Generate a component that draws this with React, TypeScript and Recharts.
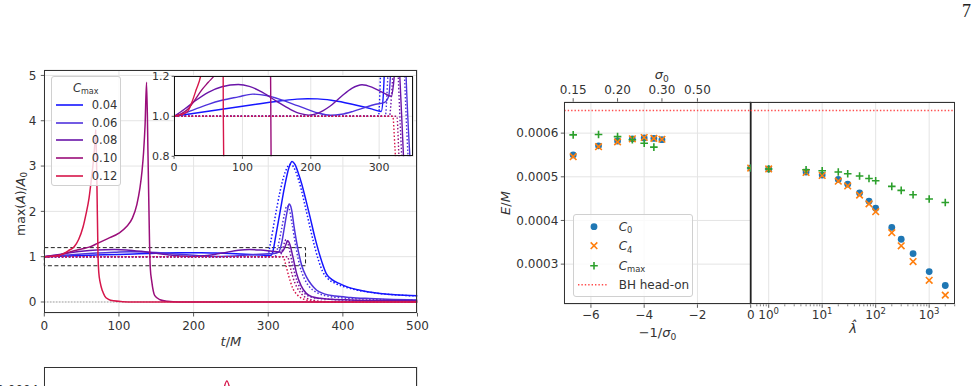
import React from "react";
import {
  CartesianGrid,
  Legend,
  Line,
  LineChart,
  ReferenceArea,
  ReferenceLine,
  Scatter,
  ScatterChart,
  XAxis,
  YAxis,
} from "recharts";

const FONT = "'DejaVu Sans', sans-serif";
const INK = "#333";
const GRID = "#e4e4e4";
const tick12 = { fontSize: 12, fill: INK };
const tick11 = { fontSize: 11, fill: INK };
const tickLine = { stroke: INK, strokeWidth: 0.8 };

// ---------- left panel: max(A)/A0 against t/M ----------
const cmaxValues = ["0.04", "0.06", "0.08", "0.10", "0.12"];
const cmaxColors = ["#1616ff", "#4f33dc", "#6a15a8", "#9a0e7a", "#d6164a"];

type Run = [number, number][];

const solid004: Run = [
  [0, 1.0], [20, 1.01], [40, 1.02], [60, 1.03], [80, 1.04], [100, 1.05], [120, 1.06], [140, 1.07],
  [160, 1.079], [180, 1.086], [195, 1.088], [210, 1.087], [230, 1.08], [250, 1.068], [270, 1.053],
  [290, 1.036], [303, 1.024], [306, 1.1], [310, 1.45], [316, 2.0], [322, 2.55], [328, 2.98], [332, 3.1],
  [336, 3.03], [340, 2.86], [345, 2.6], [350, 2.28], [356, 1.88], [362, 1.46], [367, 1.15], [372, 0.88],
  [378, 0.62], [385, 0.5], [395, 0.41], [405, 0.34], [420, 0.27], [435, 0.22], [450, 0.19], [470, 0.16],
  [500, 0.14],
];
const dotted004: Run = [
  [0, 1.0], [299, 1.0], [303, 1.3], [309, 1.85], [316, 2.45], [323, 2.88], [330, 3.04], [334, 2.98],
  [339, 2.78], [344, 2.5], [349, 2.15], [355, 1.72], [361, 1.3], [367, 0.94], [373, 0.67], [379, 0.53],
  [390, 0.41], [405, 0.32], [420, 0.26], [440, 0.205], [460, 0.17], [480, 0.147], [500, 0.132],
];
const solid006: Run = [
  [0, 1.0], [15, 1.015], [30, 1.035], [50, 1.06], [70, 1.08], [94, 1.097], [115, 1.111], [135, 1.104],
  [155, 1.085], [175, 1.06], [195, 1.035], [212, 1.015], [229, 1.005], [245, 1.01], [262, 1.025],
  [280, 1.045], [295, 1.06], [308, 1.07], [314, 1.1], [318, 1.3], [322, 1.68], [326, 2.05], [328, 2.16],
  [331, 2.06], [335, 1.62], [340, 1.15], [345, 0.8], [351, 0.56], [358, 0.38], [365, 0.26], [375, 0.18],
  [390, 0.13], [410, 0.1], [430, 0.08], [460, 0.06], [500, 0.045],
];
const dotted006: Run = [
  [0, 1.0], [309, 1.0], [313, 1.22], [318, 1.62], [322, 1.96], [325, 2.12], [328, 2.06], [332, 1.72],
  [337, 1.22], [342, 0.82], [348, 0.53], [355, 0.34], [365, 0.21], [380, 0.13], [400, 0.09], [430, 0.065],
  [460, 0.05], [500, 0.04],
];
const solid008: Run = [
  [0, 1.0], [15, 1.035], [30, 1.075], [50, 1.12], [70, 1.148], [94, 1.159], [110, 1.15], [130, 1.118],
  [150, 1.075], [170, 1.035], [185, 1.013], [197, 1.006], [210, 1.015], [228, 1.05], [245, 1.1],
  [260, 1.14], [275, 1.158], [290, 1.145], [305, 1.12], [318, 1.1], [321, 1.16], [324, 1.28], [326, 1.35],
  [329, 1.27], [333, 1.0], [338, 0.63], [344, 0.36], [351, 0.19], [360, 0.11], [370, 0.08], [385, 0.06],
  [410, 0.045], [450, 0.032], [500, 0.025],
];
const dotted008: Run = [
  [0, 1.0], [315, 1.0], [319, 1.15], [322, 1.32], [324, 1.38], [327, 1.26], [331, 0.95], [336, 0.6],
  [342, 0.33], [350, 0.17], [360, 0.1], [380, 0.06], [420, 0.035], [500, 0.02],
];
const solid010: Run = [
  [0, 1.0], [10, 1.012], [20, 1.035], [30, 1.08], [40, 1.13], [50, 1.17], [60, 1.21], [72, 1.3], [85, 1.4],
  [100, 1.52], [110, 1.66], [118, 1.85], [124, 2.15], [128, 2.5], [131, 2.9], [133, 3.3], [135, 3.9],
  [137, 4.85], [139, 3.2], [141, 1.3], [142, 0.75], [144, 0.45], [148, 0.14], [155, 0.05], [165, 0.015],
  [180, 0.0], [500, 0.0],
];
const dotted010: Run = [
  [0, 1.0], [326, 1.0], [329, 0.8], [333, 0.55], [338, 0.34], [344, 0.19], [351, 0.09], [360, 0.04],
  [375, 0.01], [400, 0.0], [500, 0.0],
];
const solid012: Run = [
  [0, 1.0], [10, 1.008], [20, 1.025], [26, 1.07], [32, 1.13], [40, 1.22], [46, 1.38], [52, 1.66], [56, 1.95],
  [60, 2.3], [63, 2.7], [66, 3.15], [68, 3.55], [69, 3.8], [70.5, 2.6], [72, 1.0], [73, 0.65], [75, 0.42],
  [78, 0.24], [81, 0.13], [86, 0.06], [93, 0.025], [105, 0.008], [120, 0.0], [500, 0.0],
];
const dotted012: Run = [
  [0, 1.0], [320, 1.0], [323, 0.85], [327, 0.6], [333, 0.3], [340, 0.14], [348, 0.06], [360, 0.02],
  [380, 0.0], [500, 0.0],
];

const solidRuns = [solid004, solid006, solid008, solid010, solid012];
const dottedRuns = [dotted004, dotted006, dotted008, dotted010, dotted012];

const tTicks = [0, 100, 200, 300, 400, 500];
const ampTicks = [0, 1, 2, 3, 4, 5];
const insetTTicks = [0, 100, 200, 300];
const insetAmpTicks = [0.8, 1.0, 1.2];
const zoomT = [0, 350];
const zoomAmp = [0.8, 1.2];

const asPoints = (run: Run) => run.map(([t, v]) => ({ t, v }));

function runLines(width: number) {
  return cmaxValues.flatMap((c, i) => [
    <Line
      key={`s${c}`}
      data={asPoints(solidRuns[i])}
      dataKey="v"
      name={c}
      type="monotone"
      stroke={cmaxColors[i]}
      strokeWidth={width}
      dot={false}
      isAnimationActive={false}
    />,
    <Line
      key={`d${c}`}
      data={asPoints(dottedRuns[i])}
      dataKey="v"
      name={`${c} dotted`}
      legendType="none"
      type="monotone"
      stroke={cmaxColors[i]}
      strokeWidth={width}
      strokeDasharray="1.5 2"
      dot={false}
      isAnimationActive={false}
    />,
  ]);
}

// ---------- right panel: radiated energy ----------
const sigma0 = [0.15, 0.175, 0.2, 0.225, 0.25, 0.275, 0.3];
const eC0Sigma = [0.00055, 0.000571, 0.000582, 0.000587, 0.000589, 0.000588, 0.000585];
const eC4Sigma = [0.000546, 0.000569, 0.00058, 0.000587, 0.00059, 0.000588, 0.000586];
const eCmaxSigma = [0.000596, 0.000597, 0.000592, 0.000585, 0.000577, 0.000568, null];

const lambdaHat = [0, 1, 5, 10, 20, 30, 50, 75, 100, 200, 300, 500, 1000, 2000];
const eC0Lambda = [0.00052, 0.000518, 0.000511, 0.000504, 0.000494, 0.000483, 0.000463, 0.000444, 0.000428, 0.000384, 0.000357, 0.000324, 0.000283, 0.000251];
const eC4Lambda = [0.00052, 0.000518, 0.00051, 0.000503, 0.00049, 0.000479, 0.000458, 0.000438, 0.00042, 0.000372, 0.000342, 0.000306, 0.000263, 0.000229];
const eCmaxLambda = [0.00052, 0.000518, 0.000516, 0.000514, 0.000511, 0.000507, 0.000502, 0.000496, 0.000491, 0.000478, 0.000469, 0.000459, 0.000449, 0.000441];

const bhHeadOn = 0.000652;
const energyDomain = [0.000208, 0.000672];
const energyTicks = [0.0003, 0.0004, 0.0005, 0.0006];
const invSigmaTicks = [-6, -4, -2, 0];
const sigmaTicks = [0.15, 0.2, 0.3, 0.5];
const lamMajors = [1, 10, 100, 1000];
const lamMinors = [0.6, 0.7, 0.8, 0.9, 2, 3, 4, 5, 6, 7, 8, 9, 20, 30, 40, 50, 60, 70, 80, 90, 200, 300, 400, 500, 600, 700, 800, 900, 2000, 3000];
const lamDomain = [0.461, 3000];

const C0_COLOR = "#1f77b4";
const C4_COLOR = "#ff7f0e";
const CMAX_COLOR = "#2ca02c";

// left half: x = -1/sigma0; lambda-hat = 0 shares the x = 0 line
function leftSet(sig: (number | null)[], lam: number[]) {
  const pts = sigma0
    .map((s, i) => ({ x: -1 / s, y: sig[i] }))
    .filter((p) => p.y !== null);
  lambdaHat.forEach((l, i) => {
    if (l === 0) pts.push({ x: 0, y: lam[i] });
  });
  return pts;
}
function rightSet(lam: number[]) {
  return lambdaHat.map((l, i) => ({ x: l, y: lam[i] })).filter((p) => p.x > 0);
}

const DotMark = ({ cx, cy }: any) => <circle cx={cx} cy={cy} r={3.4} fill={C0_COLOR} />;
const XMark = ({ cx, cy }: any) => (
  <path
    d={`M${cx - 3.3},${cy - 3.3}L${cx + 3.3},${cy + 3.3}M${cx - 3.3},${cy + 3.3}L${cx + 3.3},${cy - 3.3}`}
    stroke={C4_COLOR}
    strokeWidth={1.6}
  />
);
const PlusMark = ({ cx, cy }: any) => (
  <path
    d={`M${cx - 3.8},${cy}L${cx + 3.8},${cy}M${cx},${cy - 3.8}L${cx},${cy + 3.8}`}
    stroke={CMAX_COLOR}
    strokeWidth={1.6}
  />
);
const markers: Record<string, any> = { C0: DotMark, C4: XMark, Cmax: PlusMark };

const minus = (v: number) => (v < 0 ? `\u2212${Math.abs(v)}` : `${v}`);

const LogTick = (props: any) => {
  const { x, y, payload } = props;
  const major = lamMajors.includes(payload.value);
  const axisY = y - 6.5; // tickSize + tickMargin above the label anchor
  return (
    <g>
      <line x1={x} x2={x} y1={axisY} y2={axisY + (major ? 3.5 : 2)} stroke={INK} strokeWidth={major ? 0.8 : 0.6} />
      {major && (
        <text x={x} y={axisY + 15} textAnchor="middle" fontSize={12} fill={INK}>
          10
          <tspan fontSize={8.5} dy={-5}>
            {Math.round(Math.log10(payload.value))}
          </tspan>
        </text>
      )}
    </g>
  );
};

const Sub = ({ children }: { children: React.ReactNode }) => (
  <span style={{ fontSize: "0.7em", position: "relative", top: "0.28em" }}>{children}</span>
);

const CmaxLegend = ({ payload }: any) => {
  const items = (payload || []).filter((p: any) => cmaxValues.includes(p.value));
  return (
    <div
      style={{
        position: "relative",
        width: 70,
        height: 110,
        boxSizing: "border-box",
        background: "rgba(255,255,255,0.8)",
        border: "1px solid #d0d0d0",
        borderRadius: 3,
        fontSize: 11.5,
        color: INK,
        fontFamily: FONT,
      }}
    >
      <div style={{ position: "absolute", left: 0, right: 0, top: 3, textAlign: "center", lineHeight: "16px" }}>
        <i>C</i>
        <Sub>max</Sub>
      </div>
      {items.map((p: any, i: number) => (
        <div key={p.value} style={{ position: "absolute", left: 0, top: 19 + i * 17.7, width: "100%", height: 18 }}>
          <svg width={30} height={18} style={{ position: "absolute", left: 3, top: 0 }}>
            <line x1={1} x2={28} y1={9} y2={9} stroke={cmaxColors[cmaxValues.indexOf(p.value)]} strokeWidth={1.6} />
          </svg>
          <span style={{ position: "absolute", left: 40, top: 1, lineHeight: "16px" }}>{p.value}</span>
        </div>
      ))}
    </div>
  );
};

const EnergyLegend = ({ payload }: any) => {
  const items = (payload || []).filter((p: any) => markers[p.value]);
  return (
    <div
      style={{
        position: "relative",
        width: 120.6,
        height: 83.3,
        boxSizing: "border-box",
        background: "rgba(255,255,255,0.8)",
        border: "1px solid #d0d0d0",
        borderRadius: 3,
        fontSize: 12,
        color: INK,
        fontFamily: FONT,
      }}
    >
      {items.map((p: any, i: number) => {
        const M = markers[p.value];
        return (
          <div key={p.value} style={{ position: "absolute", left: 0, top: 2 + i * 19.4, width: "100%", height: 19.4 }}>
            <svg width={30} height={19} style={{ position: "absolute", left: 5, top: 0 }}>
              <M cx={15} cy={9.7} />
            </svg>
            <span style={{ position: "absolute", left: 45, top: 2, lineHeight: "16px" }}>
              <i>C</i>
              <Sub>{p.value.slice(1)}</Sub>
            </span>
          </div>
        );
      })}
      <div style={{ position: "absolute", left: 0, top: 2 + 3 * 19.4, width: "100%", height: 19.4 }}>
        <svg width={30} height={19} style={{ position: "absolute", left: 4, top: 0 }}>
          <line x1={0} x2={29} y1={9.7} y2={9.7} stroke="#ff4d4d" strokeWidth={1.4} strokeDasharray="1.4 2" />
        </svg>
        <span style={{ position: "absolute", left: 45, top: 2, lineHeight: "16px" }}>BH head-on</span>
      </div>
    </div>
  );
};

// ---------- lower panel (cut off at the page edge) ----------
const lowerTicks = [0, 1, 2, 3, 4, 5];
const lowerDomain = [-0.513, 5.534];
const lowerSpike: Run = [[2.2, 0.00008], [2.36, 0.00036], [2.445, 0.00044], [2.53, 0.00036], [2.69, 0.00008]];
const lowerYTicks = [0.0004];

const Title = ({ cx, cy, rotate = 0, size = 12.5, children }: any) => (
  <div
    style={{
      position: "absolute",
      left: cx,
      top: cy,
      transform: `translate(-50%, -50%) rotate(${rotate}deg)`,
      fontSize: size,
      color: INK,
      whiteSpace: "nowrap",
      lineHeight: 1,
    }}
  >
    {children}
  </div>
);

const Frame = ({ left, top, width, height, color = "#333" }: any) => (
  <div
    style={{
      position: "absolute",
      left,
      top,
      width,
      height,
      boxSizing: "border-box",
      border: `1px solid ${color}`,
      pointerEvents: "none",
    }}
  />
);

export default function App() {
  return (
    <div
      style={{
        position: "fixed",
        left: 0,
        top: 0,
        width: 977,
        height: 386,
        overflow: "hidden",
        background: "#fff",
        fontFamily: FONT,
      }}
    >
      {/* main amplitude panel */}
      <div style={{ position: "absolute", left: 0, top: 60 }}>
        <LineChart width={430} height={300} margin={{ top: 10, right: 12.5, bottom: 0, left: 0 }}>
          <CartesianGrid stroke={GRID} />
          <XAxis
            type="number"
            dataKey="t"
            domain={[0, 500]}
            ticks={tTicks}
            interval={0}
            height={47}
            tick={tick12}
            tickLine={tickLine}
            tickSize={3.5}
            tickMargin={5}
            axisLine={false}
            allowDataOverflow
          />
          <YAxis
            type="number"
            domain={[-0.243, 5.12]}
            ticks={ampTicks}
            interval={0}
            width={44.3}
            tick={tick12}
            tickLine={tickLine}
            tickSize={3.5}
            tickMargin={4.5}
            axisLine={false}
            allowDataOverflow
          />
          <ReferenceLine y={0} stroke="#888" strokeDasharray="1 2" />
          <ReferenceArea
            x1={zoomT[0]}
            x2={zoomT[1]}
            y1={zoomAmp[0]}
            y2={zoomAmp[1]}
            fill="none"
            stroke="#222"
            strokeDasharray="4 2.5"
            strokeWidth={1}
          />
          {runLines(1.5)}
          <Legend
            layout="vertical"
            align="center"
            verticalAlign="middle"
            wrapperStyle={{ left: 50.7, top: 16, width: 70, height: 110 }}
            content={<CmaxLegend />}
          />
        </LineChart>
      </div>
      <Frame left={44.3} top={70} width={373.2} height={243} />

      {/* zoomed inset */}
      <div style={{ position: "absolute", left: 130, top: 70 }}>
        <LineChart width={290} height={110} margin={{ top: 6.3, right: 6.7, bottom: 0, left: 0 }}>
          <CartesianGrid stroke={GRID} fill="#fff" fillOpacity={1} />
          <XAxis
            type="number"
            dataKey="t"
            domain={zoomT}
            ticks={insetTTicks}
            interval={0}
            height={23.7}
            tick={tick11}
            tickLine={tickLine}
            tickSize={2.5}
            tickMargin={4}
            axisLine={false}
            allowDataOverflow
          />
          <YAxis
            type="number"
            domain={zoomAmp}
            ticks={insetAmpTicks}
            interval={0}
            width={44.1}
            tick={tick11}
            tickFormatter={(v: number) => v.toFixed(1)}
            tickLine={tickLine}
            tickSize={2.5}
            tickMargin={2}
            axisLine={false}
            allowDataOverflow
          />
          {runLines(1.4)}
        </LineChart>
      </div>
      <Frame left={174.1} top={76.3} width={239.2} height={80} color="#111" />

      <Title cx={230.9} cy={341} size={13}>
        <i>t</i>/<i>M</i>
      </Title>
      <Title cx={21} cy={204} rotate={-90} size={12.5}>
        max(<i>A</i>)/<i>A</i>
        <Sub>0</Sub>
      </Title>

      {/* energy panel, left half: -1/sigma0 below, sigma0 above (same positions) */}
      <div style={{ position: "absolute", left: 480, top: 50 }}>
        <ScatterChart width={290} height={300} margin={{ top: 0, right: 19.3, bottom: 0, left: 0 }}>
          <CartesianGrid xAxisId="b" stroke={GRID} />
          <XAxis
            xAxisId="b"
            type="number"
            dataKey="x"
            domain={[-7, 0]}
            ticks={invSigmaTicks}
            interval={0}
            height={45.7}
            tick={tick12}
            tickFormatter={minus}
            tickLine={tickLine}
            tickSize={3.5}
            tickMargin={3}
            axisLine={false}
            allowDataOverflow
          />
          <XAxis
            xAxisId="top"
            orientation="top"
            type="number"
            dataKey="x"
            domain={[-7, 0]}
            ticks={sigmaTicks.map((s) => -1 / s)}
            interval={0}
            height={51.7}
            tick={tick12}
            tickFormatter={(v: number) => (-1 / v).toFixed(2)}
            tickLine={tickLine}
            tickSize={3.5}
            tickMargin={4}
            axisLine={false}
            allowDataOverflow
          />
          <YAxis
            type="number"
            dataKey="y"
            domain={energyDomain}
            ticks={energyTicks}
            interval={0}
            width={84.3}
            tick={tick12}
            tickFormatter={(v: number) => v.toFixed(4)}
            tickLine={tickLine}
            tickSize={3.5}
            tickMargin={2.5}
            axisLine={false}
            allowDataOverflow
          />
          <ReferenceLine xAxisId="b" y={bhHeadOn} stroke="#ff4d4d" strokeWidth={1.4} strokeDasharray="1.4 2" />
          <ReferenceLine xAxisId="b" x={0} stroke="#222" strokeWidth={1.8} />
          <Scatter xAxisId="top" name="C0" data={leftSet(eC0Sigma, eC0Lambda)} fill={C0_COLOR} shape={DotMark} isAnimationActive={false} />
          <Scatter xAxisId="b" name="C4" data={leftSet(eC4Sigma, eC4Lambda)} fill={C4_COLOR} shape={XMark} isAnimationActive={false} />
          <Scatter xAxisId="b" name="Cmax" data={leftSet(eCmaxSigma, eCmaxLambda)} fill={CMAX_COLOR} shape={PlusMark} isAnimationActive={false} />
          <Legend
            layout="vertical"
            align="center"
            verticalAlign="middle"
            wrapperStyle={{ left: 92.7, top: 164, width: 120.6, height: 83.3 }}
            content={<EnergyLegend />}
          />
        </ScatterChart>
      </div>

      {/* energy panel, right half: lambda-hat on a log axis */}
      <div style={{ position: "absolute", left: 740, top: 50 }}>
        <ScatterChart width={237} height={300} margin={{ top: 51.7, right: 22.3, bottom: 0, left: 10.7 }}>
          <CartesianGrid stroke={GRID} vertical={false} />
          <XAxis
            type="number"
            dataKey="x"
            scale="log"
            domain={lamDomain}
            ticks={[...lamMinors, ...lamMajors].sort((a, b) => a - b)}
            interval={0}
            height={45.7}
            tick={<LogTick />}
            tickLine={false}
            tickSize={3.5}
            tickMargin={3}
            axisLine={false}
            allowDataOverflow
          />
          <YAxis
            type="number"
            dataKey="y"
            domain={energyDomain}
            ticks={energyTicks}
            width={0}
            tick={false}
            tickLine={false}
            axisLine={false}
            allowDataOverflow
          />
          {lamMajors.map((m) => (
            <ReferenceLine key={m} x={m} stroke={GRID} />
          ))}
          <ReferenceLine y={bhHeadOn} stroke="#ff4d4d" strokeWidth={1.4} strokeDasharray="1.4 2" />
          <Scatter name="C0" data={rightSet(eC0Lambda)} fill={C0_COLOR} shape={DotMark} isAnimationActive={false} />
          <Scatter name="C4" data={rightSet(eC4Lambda)} fill={C4_COLOR} shape={XMark} isAnimationActive={false} />
          <Scatter name="Cmax" data={rightSet(eCmaxLambda)} fill={CMAX_COLOR} shape={PlusMark} isAnimationActive={false} />
        </ScatterChart>
      </div>
      <Frame left={564.3} top={101.7} width={390.4} height={202.6} />

      <Title cx={505} cy={203} rotate={-90} size={13}>
        <i>E</i>/<i>M</i>
      </Title>
      <Title cx={657.5} cy={333} size={13}>
        {"\u2212"}1/<i>σ</i>
        <Sub>0</Sub>
      </Title>
      <Title cx={661.7} cy={75} size={13}>
        <i>σ</i>
        <Sub>0</Sub>
      </Title>
      <Title cx={853} cy={328} size={13}>
        <i>λ̂</i>
      </Title>

      {/* lower panel, only its top edge fits on the page */}
      <div style={{ position: "absolute", left: 0, top: 360 }}>
        <LineChart width={430} height={140} margin={{ top: 6.7, right: 12.5, bottom: 0, left: 0 }}>
          <CartesianGrid stroke={GRID} horizontal={false} />
          <XAxis type="number" dataKey="x" domain={lowerDomain} ticks={lowerTicks} interval={0} height={20} tick={false} tickLine={false} axisLine={false} allowDataOverflow />
          <YAxis
            type="number"
            domain={[0, 0.000504]}
            ticks={lowerYTicks}
            interval={0}
            width={44.3}
            tick={tick12}
            tickFormatter={(v: number) => v.toFixed(4)}
            tickLine={tickLine}
            tickSize={3.5}
            tickMargin={2.5}
            axisLine={false}
            allowDataOverflow
          />
          <Line
            data={lowerSpike.map(([x, v]) => ({ x, v }))}
            dataKey="v"
            type="monotone"
            stroke={cmaxColors[4]}
            strokeWidth={1.5}
            dot={false}
            isAnimationActive={false}
          />
        </LineChart>
      </div>
      <Frame left={44.3} top={366.7} width={373.2} height={113.3} />

      <div style={{ position: "absolute", left: 962, top: 1, fontFamily: "'Liberation Serif', serif", fontSize: 18, color: "#222" }}>
        7
      </div>
    </div>
  );
}
